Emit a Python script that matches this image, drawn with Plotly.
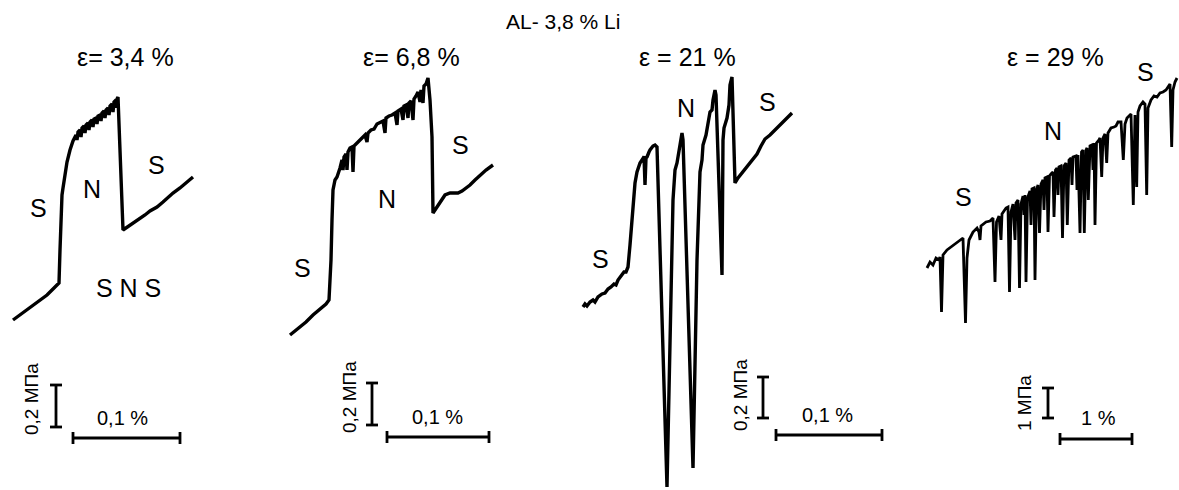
import plotly.graph_objects as go

# ---------------- data (drawing units) ----------------
title_text = "AL- 3,8 % Li"
strain_labels = ["ε= 3,4 %", "ε= 6,8 %", "ε = 21 %", "ε = 29 %"]
stress_bar_labels = ["0,2 МПа", "0,2 МПа", "0,2 МПа", "1 МПа"]
strain_bar_labels = ["0,1 %", "0,1 %", "0,1 %", "1 %"]

curve1_x = [13, 20, 25, 30, 36, 42, 47, 53, 59, 60, 61, 62, 63, 65, 67, 70, 73, 76, 77, 78, 80, 81, 82, 84, 85, 86,
            88, 89, 90, 92, 93, 94, 96, 97, 98, 100, 101, 102, 104, 105, 106, 108, 109, 110, 112, 113, 114, 116,
            116.5, 117, 118, 123, 126, 130, 135, 140, 145, 150, 157, 163, 168, 173, 180, 187, 193]
curve1_y = [320, 315, 311, 307, 303, 299, 295, 289, 283, 250, 220, 195, 188, 175, 162, 150, 141, 135, 140, 132, 130,
            137, 128, 126, 133, 125, 123, 130, 122, 120, 127, 119, 118, 124, 116, 115, 121, 113, 111, 118, 110, 108,
            115, 106, 104, 112, 102, 100, 108, 99, 97, 230, 228, 225, 222, 219, 215, 211, 207, 202, 197, 193, 188,
            182, 177]

curve2_x = [290, 296, 300, 306, 313, 320, 326, 329, 331, 332, 333, 335, 337, 340, 342, 343, 344, 346, 347, 348, 350,
            352, 353, 354, 357, 360, 363, 365, 367, 368, 371, 374, 377, 380, 383, 385, 386, 389, 392, 395, 397, 398,
            401, 403, 404, 406, 408, 409, 411, 413, 414, 416, 418, 420, 421, 423, 424, 426, 428, 430, 432, 433, 435,
            437, 440, 445, 450, 453, 458, 462, 466, 470, 475, 480, 486, 493]
curve2_y = [335, 330, 327, 322, 315, 309, 304, 300, 260, 220, 190, 180, 177, 168, 160, 170, 157, 154, 170, 152, 148,
            147, 172, 146, 143, 140, 136, 135, 142, 133, 130, 129, 124, 122, 121, 133, 118, 116, 115, 113, 125, 111,
            109, 120, 106, 105, 118, 103, 101, 120, 99, 96, 92, 102, 90, 103, 86, 84, 78, 100, 137, 213, 210, 206,
            201, 195, 193, 193, 193, 191, 188, 185, 180, 175, 170, 165]

curve3_x = [583, 585, 587, 590, 593, 595, 598, 602, 605, 608, 611, 614, 616, 618, 621, 624, 626, 628, 630, 632, 634,
            635, 637, 639, 640, 642, 643, 644, 645, 646, 647, 649, 650, 653, 655, 657, 667, 673, 675, 677, 678, 680,
            682, 683, 693, 697, 700, 702, 703, 706, 708, 710, 712, 713, 715, 716, 722, 723, 724, 727, 729, 730, 732,
            735, 738, 742, 747, 752, 757, 761, 765, 770, 774, 778, 783, 787, 792]
curve3_y = [307, 304, 306, 302, 300, 302, 297, 294, 293, 289, 287, 284, 285, 280, 276, 272, 272, 267, 245, 220, 195,
            183, 172, 166, 163, 160, 162, 156, 185, 158, 157, 152, 150, 146, 145, 147, 487, 200, 170, 163, 157, 150,
            133, 140, 468, 260, 172, 160, 145, 135, 122, 112, 110, 100, 90, 95, 275, 140, 128, 118, 105, 85, 77,
            183, 178, 173, 167, 160, 154, 146, 139, 135, 131, 127, 122, 117, 113]

curve4_x = [927, 930, 933, 936, 939, 940, 941.5, 943, 947, 952, 958, 963, 965.5, 967, 969, 973, 977, 979, 980, 981,
            986, 990, 993, 995, 996.5, 999, 1001, 1002, 1006, 1008, 1009.5, 1011, 1013, 1015, 1016, 1018, 1019.5,
            1021, 1023, 1024, 1025, 1026, 1027.5, 1030, 1031, 1032, 1034, 1035, 1036.5, 1038, 1039.5, 1041, 1043,
            1044, 1045, 1047, 1048, 1049.5, 1051, 1053, 1054, 1055.5, 1057, 1058, 1059, 1061, 1062.5, 1064, 1066,
            1067.3, 1069, 1071, 1072, 1073, 1076, 1077, 1078, 1080, 1081.5, 1083, 1084.3, 1086, 1087, 1088.3, 1090,
            1092, 1093, 1094, 1095, 1096.5, 1099, 1100, 1101.7, 1103, 1105, 1106.7, 1108, 1111, 1114, 1116, 1118,
            1121, 1123.3, 1125, 1127, 1129, 1131, 1133.3, 1135, 1136.7, 1138, 1140, 1143, 1145, 1146.7, 1148, 1151,
            1154, 1157, 1160, 1163, 1166, 1168, 1170, 1171.7, 1173, 1175, 1177]
curve4_y = [268, 262, 265, 258, 260, 257, 312, 255, 250, 246, 242, 238, 323, 258, 240, 232, 228, 232, 240, 226,
            222, 221, 218, 282, 222, 216, 240, 214, 208, 207, 292, 212, 204, 240, 203, 200, 288, 204, 196, 215,
            195, 282, 198, 191, 225, 189, 188, 280, 190, 185, 233, 184, 180, 210, 178, 177, 232, 176, 174, 172,
            217, 170, 168, 195, 167, 166, 238, 166, 163, 225, 160, 158, 185, 157, 156, 190, 155, 233, 152, 150,
            233, 150, 148, 200, 146, 145, 170, 143, 225, 143, 140, 138, 177, 138, 134, 163, 133, 128, 127, 126,
            122, 122, 160, 124, 118, 116, 114, 205, 115, 187, 112, 106, 102, 104, 195, 108, 100, 96, 97, 93, 92,
            90, 87, 84, 147, 90, 82, 78]

curves_x = [curve1_x, curve2_x, curve3_x, curve4_x]
curves_y = [curve1_y, curve2_y, curve3_y, curve4_y]

# ---------------- layout / positions (drawing units) ----------------
W, H = 1179, 490
FONT = "Liberation Sans, Arial, sans-serif"
line_widths = [3.4, 3.4, 3.4, 2.8]

title_pos = (563, 21)
eps_pos = [(125, 57), (411, 57), (687, 57), (1055, 57)]
region_labels = [
    ("S", 38, 208), ("N", 92, 189), ("S", 156, 165), ("S N S", 128, 288),
    ("S", 302, 268), ("N", 387, 199), ("S", 460, 145),
    ("S", 600, 259), ("N", 686, 108), ("S", 767, 102),
    ("S", 963, 197), ("N", 1053, 131), ("S", 1145, 72),
]
# vertical stress bar: x, y_top, y_bottom ; rotated label x, y
vbars = [(56, 385, 427, 31, 399), (372, 383, 425, 349, 397), (763, 377, 418, 740, 395), (1048, 388, 418, 1024, 403)]
# horizontal strain bar: x_left, x_right, y ; label x, y
hbars = [(73, 180, 438, 122, 418), (387, 489, 437, 437, 417), (776, 882, 435, 827, 415), (1060, 1132, 439, 1098, 418)]
cap_v = 6   # half width of caps on vertical bar
cap_h = 6   # half height of caps on horizontal bar

fig = go.Figure()

for cx, cy, lw in zip(curves_x, curves_y, line_widths):
    fig.add_trace(go.Scatter(x=cx, y=cy, mode="lines",
                             line=dict(color="black", width=lw),
                             hoverinfo="skip", showlegend=False))

# scale bars
for (x, yt, yb, _, _) in vbars:
    fig.add_trace(go.Scatter(
        x=[x, x, None, x - cap_v, x + cap_v, None, x - cap_v, x + cap_v],
        y=[yt, yb, None, yt, yt, None, yb, yb],
        mode="lines", line=dict(color="black", width=2.8),
        hoverinfo="skip", showlegend=False))
for (xl, xr, y, _, _) in hbars:
    fig.add_trace(go.Scatter(
        x=[xl, xr, None, xl, xl, None, xr, xr],
        y=[y, y, None, y - cap_h, y + cap_h, None, y - cap_h, y + cap_h],
        mode="lines", line=dict(color="black", width=2.8),
        hoverinfo="skip", showlegend=False))

annotations = []
annotations.append(dict(x=title_pos[0], y=title_pos[1], text=title_text, showarrow=False,
                        font=dict(family=FONT, size=21, color="black")))
for lab, (x, y) in zip(strain_labels, eps_pos):
    annotations.append(dict(x=x, y=y, text=lab, showarrow=False,
                            font=dict(family=FONT, size=25, color="black")))
for lab, x, y in region_labels:
    annotations.append(dict(x=x, y=y, text=lab, showarrow=False,
                            font=dict(family=FONT, size=25, color="black")))
for lab, (_, _, _, tx, ty) in zip(stress_bar_labels, vbars):
    annotations.append(dict(x=tx, y=ty, text=lab, showarrow=False, textangle=-90,
                            font=dict(family=FONT, size=19, color="black")))
for lab, (_, _, _, tx, ty) in zip(strain_bar_labels, hbars):
    annotations.append(dict(x=tx, y=ty, text=lab, showarrow=False,
                            font=dict(family=FONT, size=20, color="black")))

for a in annotations:
    a.update(xref="x", yref="y", xanchor="center", yanchor="middle")

fig.update_layout(
    width=W, height=H,
    margin=dict(l=0, r=0, t=0, b=0),
    paper_bgcolor="white", plot_bgcolor="white",
    xaxis=dict(range=[0, W], visible=False, fixedrange=True),
    yaxis=dict(range=[H, 0], visible=False, fixedrange=True),
    annotations=annotations,
    showlegend=False,
)

# remove the browser's default page margin so the figure fills the window exactly
fig.write_html("out.html",
               config={"displayModeBar": False},
               post_script="document.body.style.margin='0';document.body.style.overflow='hidden';")
